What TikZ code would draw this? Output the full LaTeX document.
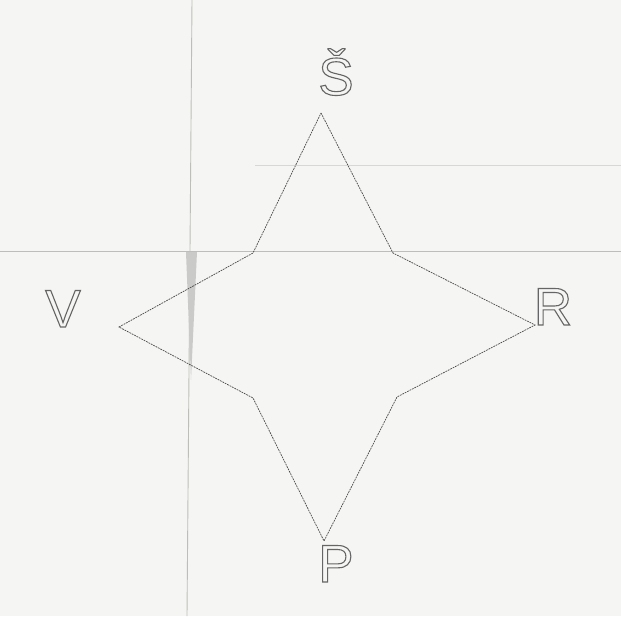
\documentclass[tikz,border=0pt]{standalone}
\usepackage{fontspec}
\setmainfont{Liberation Sans}
\usetikzlibrary{positioning}
\definecolor{PaperWhite}{HTML}{F5F5F3}
\definecolor{FoldGray}{HTML}{BDBDBA}
\definecolor{PenGray}{HTML}{4A4A4A}
\newcommand\hollow[1]{\special{pdf:literal direct 1 Tr 1.1 w}#1\special{pdf:literal direct 0 Tr}}

\begin{document}
\begin{tikzpicture}[x=1pt,y=-1pt,
 edge/.style={draw=PenGray,line width=.7pt,dash pattern=on 1.8pt off .9pt,line join=miter},
 fold/.style={draw=FoldGray,line width=.9pt},
 letter/.style={anchor=base,inner sep=0pt,text=PenGray!85,
                font=\fontsize{53}{53}\selectfont}]
\fill[PaperWhite] (0,0) rectangle (621,616);
\useasboundingbox (0,0) rectangle (621,616);
% paper folds
\draw[fold] (0,251) -- (621,251);
\draw[fold,draw=FoldGray!60] (255,165) -- (621,165);
\draw[fold] (192,0) -- (190,250) -- (187,616);
\fill[FoldGray!80] (186,252) -- (197,252) -- (191,380) -- cycle;
% star points
\coordinate (north) at (321,113);
\coordinate (ne) at (393,253);
\coordinate (east) at (535,325);
\coordinate (se) at (397,397);
\coordinate (south) at (324,541);
\coordinate (sw) at (253,398);
\coordinate (west) at (119,327);
\coordinate (nw) at (253,253);
\draw[edge] (north)--(ne)--(east)--(se)--(south)--(sw)--(west)--(nw)--cycle;
% labels
\node[letter] (sever) at (336,95) {\hollow{Š}};
\node[letter] (vzhod) at (63,327) {\hollow{V}};
\node[letter] (desno) at (553,325) {\hollow{R}};
\node[letter] (jug) at (336,582) {\hollow{P}};
\end{tikzpicture}
\end{document}
